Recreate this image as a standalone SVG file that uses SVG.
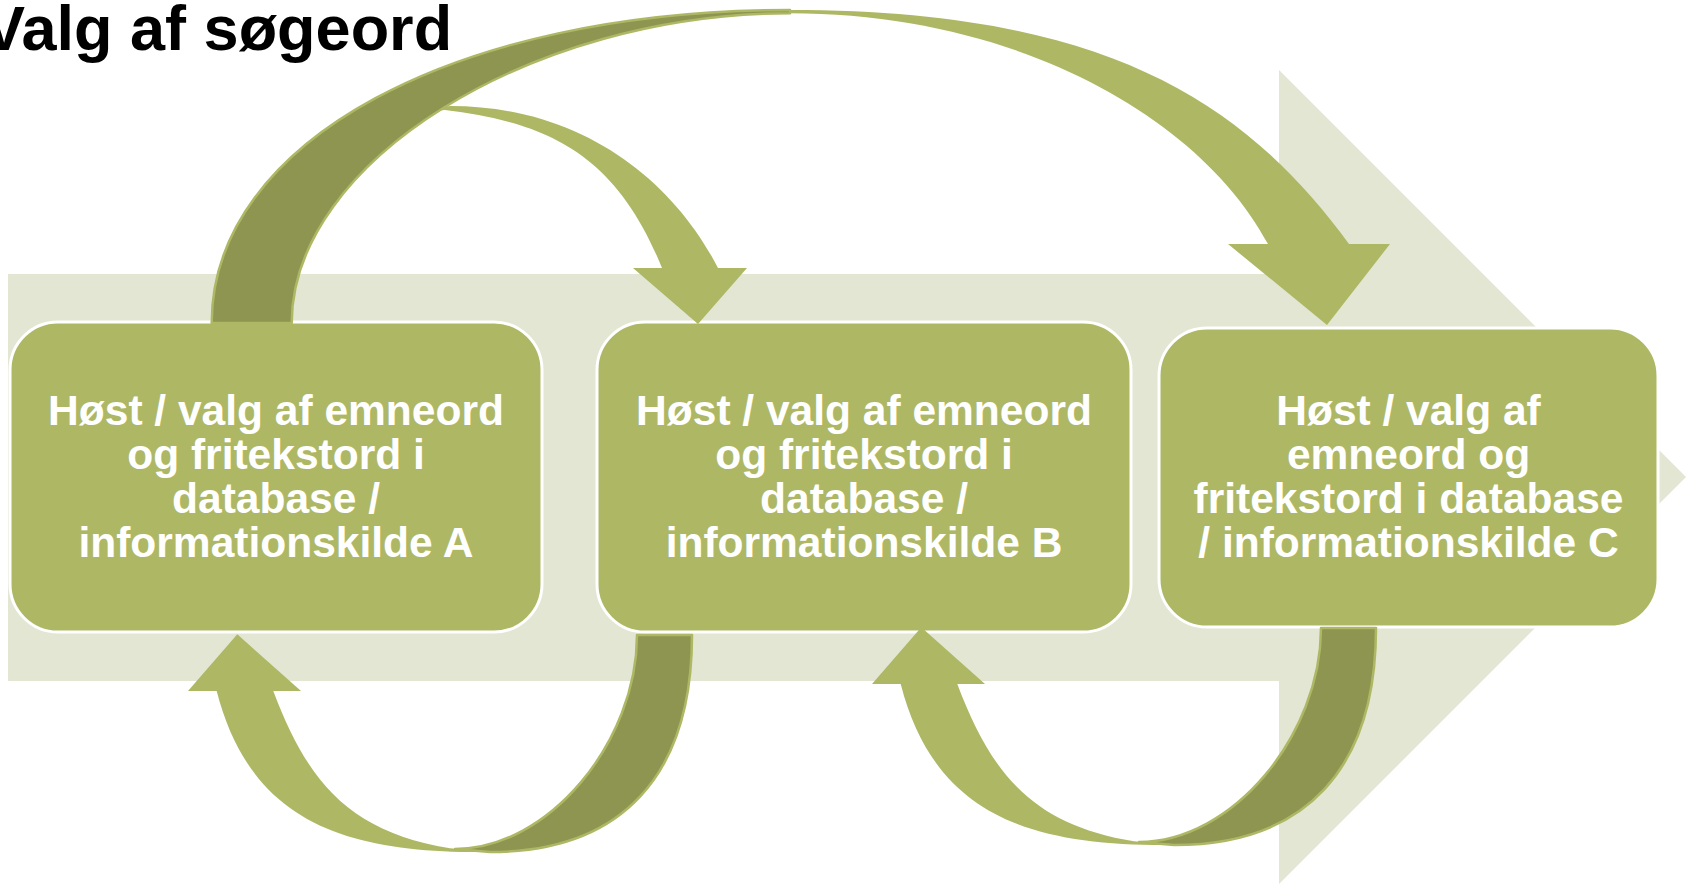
<svg xmlns="http://www.w3.org/2000/svg" width="1696" height="884" viewBox="0 0 1696 884">
<style>
.bg{fill:#E2E6D3}
.box{fill:#AEB864;stroke:#FFFFFF;stroke-width:3}
.lt{fill:#AEB864}
.dk{fill:#8D9550;stroke:#AEB864;stroke-width:2.5;stroke-linejoin:round}
.lbl{font-family:"Liberation Sans",Arial,sans-serif;font-weight:bold;font-size:42.5px;fill:#FFFFFF;text-anchor:middle}
.title{font-family:"Liberation Sans",Arial,sans-serif;font-weight:bold;font-size:63px;fill:#000000}
</style>
<rect width="1696" height="884" fill="#FFFFFF"/>
<g id="background-arrow">
<polygon class="bg" points="8,274 1279,274 1279,70 1686,477 1279,884 1279,681 8,681"/>
</g>
<text class="title" x="-17" y="50">Valg af søgeord</text>
<g id="node-a">
<rect class="box" x="10" y="322" width="532" height="310" rx="48" ry="48"/>
<text class="lbl" x="276" y="425">Høst / valg af emneord</text>
<text class="lbl" x="276" y="469">og fritekstord i</text>
<text class="lbl" x="276" y="513">database /</text>
<text class="lbl" x="276" y="557">informationskilde A</text>
</g>
<g id="node-b">
<rect class="box" x="597" y="322" width="534" height="310" rx="48" ry="48"/>
<text class="lbl" x="864" y="425">Høst / valg af emneord</text>
<text class="lbl" x="864" y="469">og fritekstord i</text>
<text class="lbl" x="864" y="513">database /</text>
<text class="lbl" x="864" y="557">informationskilde B</text>
</g>
<g id="node-c">
<rect class="box" x="1159" y="328" width="499" height="299" rx="48" ry="48"/>
<text class="lbl" x="1408.5" y="425">Høst / valg af</text>
<text class="lbl" x="1408.5" y="469">emneord og</text>
<text class="lbl" x="1408.5" y="513">fritekstord i database</text>
<text class="lbl" x="1408.5" y="557">/ informationskilde C</text>
</g>
<g id="connectors">
<g id="arrow-a-b">
<path class="lt" d="M423,119 Q432,107 450,106 C580,106 672.4,179 718,268 L747,268 L698,324 L633,268 L662,268 C613.8,147.4 540,122 445,110 Q432,110 423,119 Z"/>
</g>
<g id="arrow-a-c">
<path class="lt" d="M790,10 C1100,10 1243,98.4 1349,244 L1390,244 L1327,325 L1228,244 L1268,244 C1202.5,120.2 1020,13.3 790,13.3 Z"/>
<path class="dk" d="M211.7,323 C211.7,141.5 454.6,10 790,10 L790,13.3 C530.9,13.3 291.7,162 291.7,323 Z"/>
</g>
<g id="arrow-b-a">
<path class="lt" d="M490,852 L480,852 C345,852 250.3,821.8 216.7,691 L188,691 L237.3,634.3 L301,691 L273.3,691 C308.4,784.6 351.3,832 450,848.3 Z"/>
<path class="dk" d="M637,635 L692,635 C692,776 621.3,852 490,852 L455,849 C548.5,849 637,742 637,635 Z"/>
</g>
<g id="arrow-c-b" transform="translate(684,-7)">
<path class="lt" d="M490,852 L480,852 C345,852 250.3,821.8 216.7,691 L188,691 L237.3,634.3 L301,691 L273.3,691 C308.4,784.6 351.3,832 450,848.3 Z"/>
<path class="dk" d="M637,635 L692,635 C692,776 621.3,852 490,852 L455,849 C548.5,849 637,742 637,635 Z"/>
</g>
</g>
</svg>
